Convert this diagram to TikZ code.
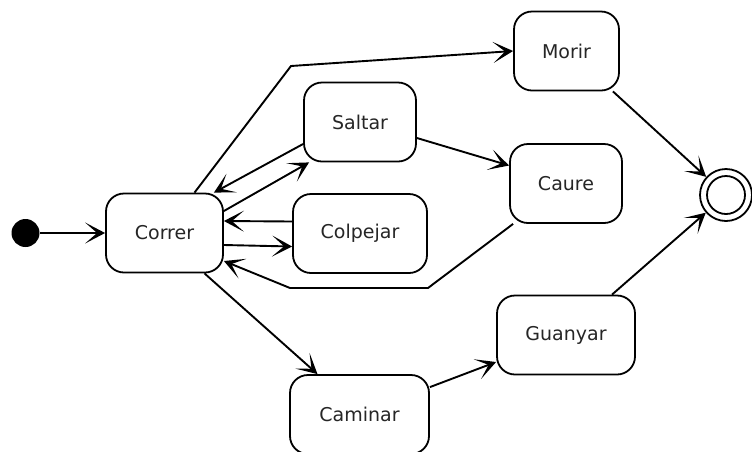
\documentclass[tikz,border=0pt]{standalone}
\usepackage{fontspec}
\setmainfont{DejaVu Sans}
\usetikzlibrary{arrows.meta}
\begin{document}
\begin{tikzpicture}[x=1pt,y=-1pt,
  state/.style={draw, line width=1.8pt, rounded corners=18pt, fill=white,
    minimum height=79pt, inner sep=0pt, text=black!85,
    font=\fontsize{19}{22}\selectfont},
  flow/.style={draw, line width=1.9pt,
    -{Stealth[length=20pt,width=21pt,inset=12pt]}}]
\useasboundingbox (0,0) rectangle (752,451);

% states
\node[state, minimum width=117pt] (correr)   at (164.5,233) {Correr};
\node[state, minimum width=112pt] (saltar)   at (360,122)   {Saltar};
\node[state, minimum width=134pt] (colpejar) at (360,233.5) {Colpejar};
\node[state, minimum width=105pt] (morir)    at (566.5,51)  {Morir};
\node[state, minimum width=112pt] (caure)    at (566,183.5) {Caure};
\node[state, minimum width=138pt] (guanyar)  at (566,335)   {Guanyar};
\node[state, minimum width=139pt] (caminar)  at (359.5,414.5) {Caminar};

% initial and final pseudo-states
\node[circle, fill=black, minimum size=28pt, inner sep=0pt] (init) at (25.5,233) {};
\node[circle, draw, line width=1.8pt, minimum size=52pt, inner sep=0pt] (final) at (726,195) {};
\node[circle, draw, line width=1.8pt, minimum size=38pt, inner sep=0pt] at (final) {};

% bend points
\coordinate (b1) at (291,66);
\coordinate (b2) at (428,288);
\coordinate (b3) at (290,288);

% transitions
\draw[flow] (init) -- (correr);
\path[flow] ([xshift=30pt]correr.north) -- (b1) -- (morir.west);
\path[flow] ([yshift=-22pt]saltar.west) -- ([xshift=-10pt]correr.north east);
\path[flow] ([yshift=22pt]correr.east) -- ([xshift=6pt]saltar.south west);
\path[flow] ([yshift=12pt]colpejar.west) -- ([yshift=12pt]correr.east);
\path[flow] ([yshift=-12pt]correr.east) -- ([yshift=-13pt]colpejar.west);
\path[flow] ([xshift=4pt]caure.south west) -- (b2) -- (b3) -- ([yshift=-28pt]correr.east);
\path[flow] ([yshift=-16pt]saltar.east) -- ([yshift=18pt]caure.west);
\path[flow] ([xshift=40pt]correr.south) -- ([xshift=-42pt]caminar.north);
\path[flow] ([yshift=-13pt]caminar.north east) -- ([yshift=-27pt]guanyar.west);
\path[flow] ([xshift=-7pt]morir.south east) -- (final);
\path[flow] ([xshift=46pt]guanyar.north) -- (final);
\end{tikzpicture}
\end{document}
